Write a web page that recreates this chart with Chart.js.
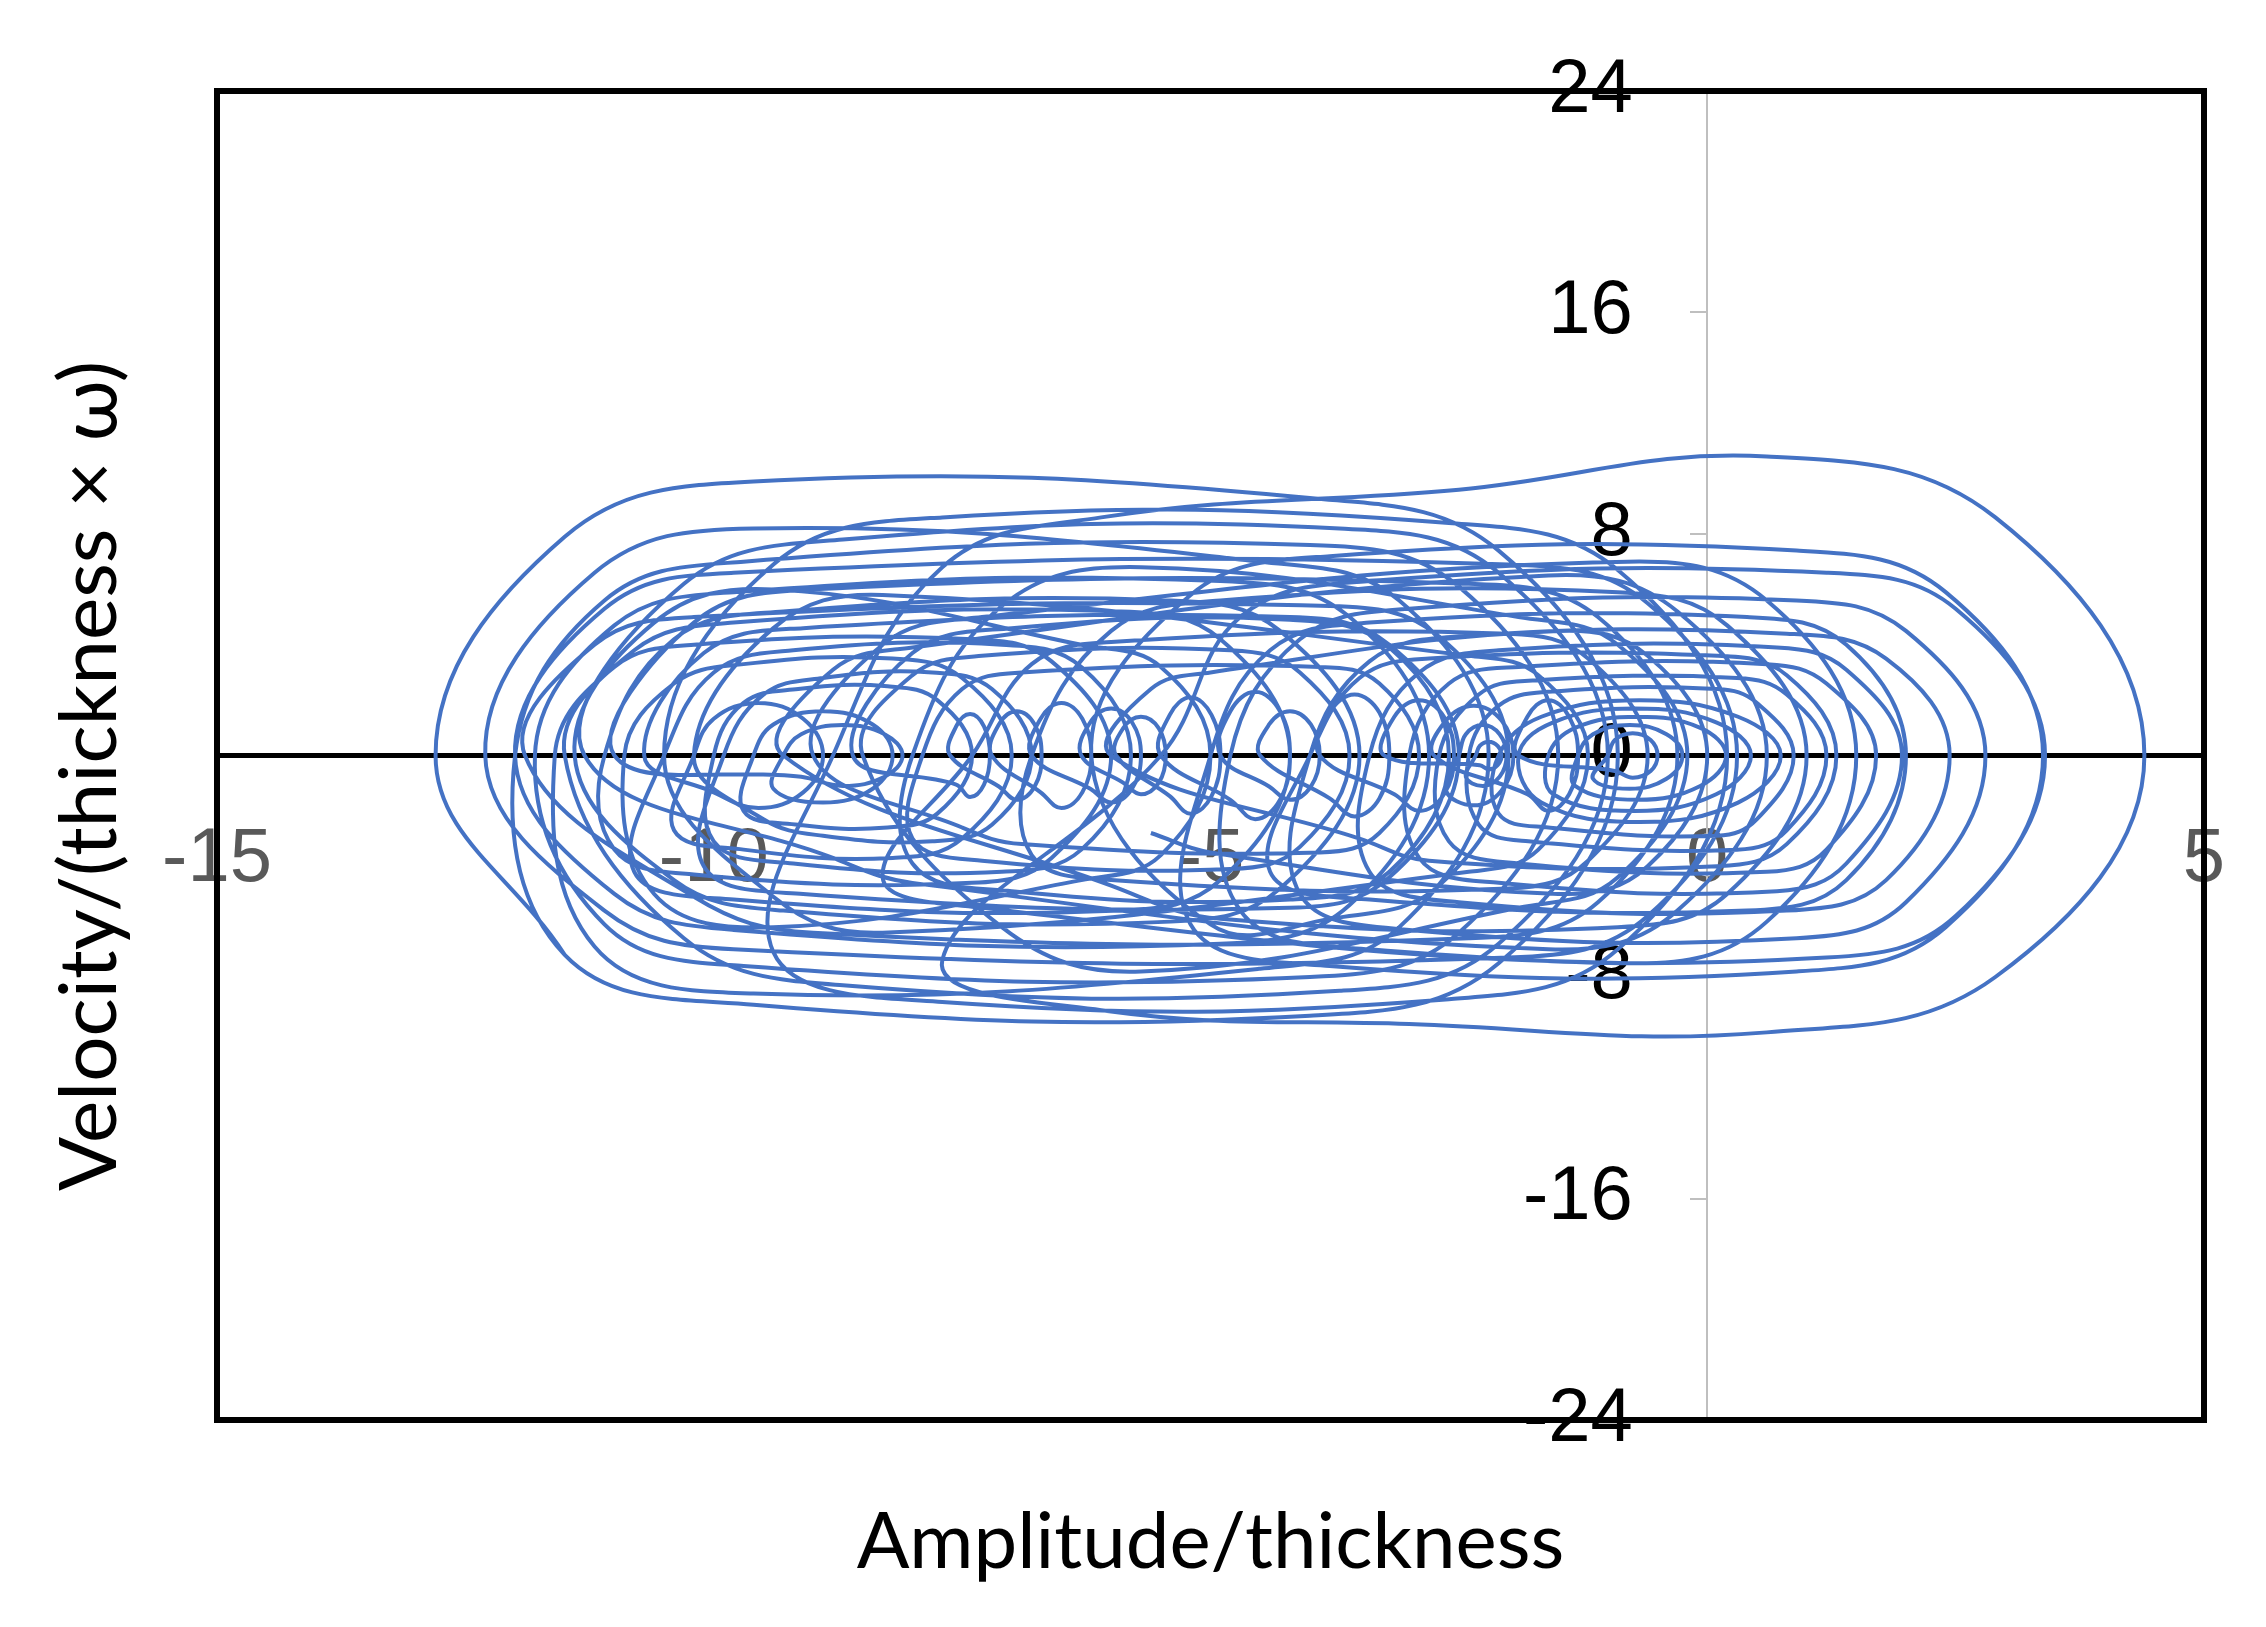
<!DOCTYPE html>
<html>
<head>
<meta charset="utf-8">
<script src="https://cdn.jsdelivr.net/npm/chart.js@4.4.1/dist/chart.umd.min.js"></script>
<style>
  html, body { margin: 0; padding: 0; background: #fff; }
</style>
</head>
<body>
<canvas id="phaseChart" width="2266" height="1627"></canvas>
<script>
// axis titles and ticks
const xTitle = 'Amplitude/thickness';
const yTitle = 'Velocity/(thickness \u00d7 \u03c9)';
const xTicks = [-15, -10, -5, 0, 5];
const yTicks = [-24, -16, -8, 0, 8, 16, 24];

// trajectory, [amplitude, velocity], in the order it is traced
const leftWellA = [
  [-11.5, -7.2],
  [-12.8, 0], [-11.5, 7.9], [-9.6, 9.9], [-4.0, 9.3], [-2.1, 7.4], [-0.9, 0], [-2.1, -7.5], [-4.0, -9.4], [-9.6, -9.0], [-11.5, -7.2],
  [-12.0, 0], [-11.1, 5.6], [-9.7, 7.0], [-4.0, 7.6], [-2.5, 6.1], [-1.5, 0], [-2.5, -6.4], [-4.0, -8.0], [-9.7, -7.6], [-11.1, -6.1],
  [-11.8, 0], [-11.0, 4.7], [-9.8, 5.9], [-4.9, 6.3], [-3.6, 5.0], [-2.8, 0], [-3.6, -5.4], [-4.9, -6.8], [-9.8, -6.3], [-11.0, -5.0],
  [-12.0, 0], [-11.1, 5.3], [-9.8, 6.6], [-2.0, 6.9], [-0.6, 5.5], [0.3, 0], [-0.6, -5.8], [-2.0, -7.3], [-9.8, -7.0], [-11.1, -5.6],
  [-12.3, 0], [-11.2, 6.6], [-9.6, 8.2], [-4.5, 7.0], [-3.1, 5.6], [-2.2, 0], [-3.1, -6.2], [-4.5, -7.7], [-9.6, -8.6], [-11.2, -6.9],
  [-11.6, 0], [-11.0, 3.2], [-10.2, 4.0], [-7.4, 4.2], [-6.6, 3.4], [-6.0, 0], [-6.6, -3.7], [-7.4, -4.6], [-10.2, -4.3], [-11.0, -3.4],
  [-11.1, 0], [-10.4, 4.2], [-9.3, 5.2], [-5.4, 5.6], [-4.3, 4.5], [-3.5, 0], [-4.3, -4.8], [-5.4, -6.0], [-9.3, -5.6], [-10.4, -4.5],
  [-11.4, 0], [-10.6, 4.8], [-9.4, 6.0], [-6.3, 4.0], [-5.5, 3.2], [-5.0, 0], [-5.5, -3.6], [-6.3, -4.5], [-9.4, -6.2], [-10.6, -5.0],
  [-10.9, 0], [-10.4, 2.6], [-9.7, 3.3], [-8.2, 3.5], [-7.5, 2.8], [-7.0, 0], [-7.5, -3.0], [-8.2, -3.7], [-9.7, -3.4], [-10.4, -2.7],
  [-10.2, 0], [-10.0, 1.33], [-9.55, 1.9], [-9.1, 1.33], [-8.9, 0], [-9.1, -1.33], [-9.55, -1.9], [-10.0, -1.33],
  [-10.7, 0], [-10.1, 3.7], [-9.1, 4.6], [-4.2, 5.0], [-3.2, 4.0], [-2.5, 0], [-3.2, -4.4], [-4.2, -5.5], [-9.1, -5.0], [-10.1, -4.0],
  [-9.9, 0], [-9.5, 2.2], [-8.9, 2.8], [-7.8, 3.0], [-7.2, 2.4], [-6.8, 0], [-7.2, -2.5], [-7.8, -3.1], [-8.9, -2.9], [-9.5, -2.3],
  [-10.2, 0], [-9.4, 4.6], [-8.3, 5.8], [-2.4, 3.6], [-1.7, 2.9], [-1.2, 0], [-1.7, -3.4], [-2.4, -4.2], [-8.3, -6.4], [-9.4, -5.1]
];

const crossRight = [
  [-10.5, 0], [-9.4, 6.9], [-7.7, 8.6], [-2.6, 8.4], [-0.9, 6.7], [0.2, 0], [-0.9, -7.0], [-2.6, -8.8], [-7.7, -8.9], [-9.4, -7.1],
  [-8.8, 0], [-7.7, 6.8], [-6.1, 8.6], [-2.5, 9.6], [0.6, 10.8], [2.9, 8.6], [4.4, 0], [2.9, -8.0], [0.6, -10.0], [-3.0, -9.7], [-6.1, -9.2], [-7.7, -7.4]
];

const rightWell = [
  [-5.5, 0], [-4.7, 5.0], [-3.4, 6.3], [1.2, 6.6], [2.5, 5.3], [3.4, 0], [2.5, -5.8], [1.2, -7.3], [-3.4, -7.0], [-4.7, -5.6],
  [-4.8, 0], [-4.1, 4.2], [-3.0, 5.3], [0.9, 5.6], [2.0, 4.5], [2.8, 0], [2.0, -5.3], [0.9, -6.6], [-3.0, -6.3], [-4.1, -5.0],
  [-4.0, 0], [-3.4, 3.4], [-2.5, 4.3], [0.8, 4.4], [1.8, 3.5], [2.44, 0], [1.8, -4.5], [0.8, -5.6], [-2.5, -5.3], [-3.4, -4.2],
  [-3.4, 0], [-2.9, 3.0], [-2.1, 3.8], [0.7, 3.9], [1.4, 3.1], [1.96, 0], [1.4, -3.9], [0.7, -4.9], [-2.1, -4.6], [-2.9, -3.7],
  [-3.0, 0], [-2.6, 2.6], [-1.9, 3.2], [0.6, 3.3], [1.2, 2.6], [1.7, 0], [1.2, -3.4], [0.6, -4.2], [-1.9, -3.9], [-2.6, -3.1],
  [-2.7, 0], [-2.3, 2.2], [-1.8, 2.7], [0.3, 2.8], [0.8, 2.2], [1.2, 0], [0.8, -2.7], [0.3, -3.4], [-1.8, -3.1], [-2.3, -2.5],
  [-2.4, 0], [-2.1, 1.8], [-1.6, 2.3], [0.1, 2.4], [0.5, 1.9], [0.87, 0], [0.5, -2.3], [0.1, -2.9], [-1.6, -2.6], [-2.1, -2.1],
  [-2.1, 0], [-1.67, 1.4], [-0.68, 2.0], [0.31, 1.4], [0.74, 0], [0.31, -1.7], [-0.68, -2.4], [-1.67, -1.7],
  [-1.9, 0], [-1.55, 1.2], [-0.73, 1.7], [0.09, 1.2], [0.44, 0], [0.09, -1.4], [-0.73, -2.0], [-1.55, -1.4],
  [-1.6, 0], [-1.33, 1.0], [-0.7, 1.4], [-0.07, 1.0], [0.19, 0], [-0.07, -1.1], [-0.7, -1.6], [-1.33, -1.1],
  [-1.3, 0], [-1.15, 0.77], [-0.78, 1.1], [-0.41, 0.77], [-0.25, 0], [-0.41, -0.84], [-0.78, -1.2], [-1.15, -0.84],
  [-1.0, 0], [-0.93, 0.56], [-0.75, 0.8], [-0.57, 0.56], [-0.5, 0], [-0.57, -0.56], [-0.75, -0.8], [-0.93, -0.56]
];

const midChain = [
  [-1.9, 0], [-1.81, 1.4], [-1.6, 2.0], [-1.39, 1.4], [-1.3, 0], [-1.39, -1.4], [-1.6, -2.0], [-1.81, -1.4],
  [-2.75, 0], [-2.63, 1.26], [-2.35, 1.8], [-2.07, 1.26], [-1.95, 0], [-2.07, -1.26], [-2.35, -1.8], [-2.63, -1.26],
  [-2.5, 0], [-2.43, 0.77], [-2.26, 1.1], [-2.09, 0.77], [-2.02, 0], [-2.09, -0.77], [-2.26, -1.1], [-2.43, -0.77],
  [-2.33, 0], [-2.29, 0.35], [-2.2, 0.5], [-2.11, 0.35], [-2.07, 0], [-2.11, -0.35], [-2.2, -0.5], [-2.29, -0.35],
  [-3.25, 0], [-3.15, 1.4], [-2.9, 2.0], [-2.65, 1.4], [-2.55, 0], [-2.65, -1.4], [-2.9, -2.0], [-3.15, -1.4],
  [-3.9, 0], [-3.8, 1.55], [-3.55, 2.2], [-3.3, 1.55], [-3.2, 0], [-3.3, -1.55], [-3.55, -2.2], [-3.8, -1.55],
  [-4.5, 0], [-4.41, 1.12], [-4.2, 1.6], [-3.99, 1.12], [-3.9, 0], [-3.99, -1.12], [-4.2, -1.6], [-4.41, -1.12],
  [-4.9, 0], [-4.8, 1.6], [-4.55, 2.3], [-4.3, 1.6], [-4.2, 0], [-4.3, -1.6], [-4.55, -2.3], [-4.8, -1.6],
  [-5.5, 0], [-5.41, 1.47], [-5.2, 2.1], [-4.99, 1.47], [-4.9, 0], [-4.99, -1.47], [-5.2, -2.1], [-5.41, -1.47],
  [-5.95, 0], [-5.88, 0.98], [-5.7, 1.4], [-5.52, 0.98], [-5.45, 0], [-5.52, -0.98], [-5.7, -1.4], [-5.88, -0.98],
  [-6.3, 0], [-6.21, 1.2], [-6.0, 1.7], [-5.79, 1.2], [-5.7, 0], [-5.79, -1.2], [-6.0, -1.7], [-6.21, -1.2],
  [-6.8, 0], [-6.71, 1.33], [-6.5, 1.9], [-6.29, 1.33], [-6.2, 0], [-6.29, -1.33], [-6.5, -1.9], [-6.71, -1.33],
  [-7.2, 0], [-7.13, 1.12], [-6.95, 1.6], [-6.77, 1.12], [-6.7, 0], [-6.77, -1.12], [-6.95, -1.6], [-7.13, -1.12],
  [-7.62, 0], [-7.56, 1.05], [-7.42, 1.5], [-7.28, 1.05], [-7.22, 0], [-7.28, -1.05], [-7.42, -1.5], [-7.56, -1.05]
];

const midLoops = [
  [-8.6, 0], [-8.0, 3.7], [-7.0, 4.6], [-4.2, 4.9], [-3.2, 3.9], [-2.6, 0], [-3.2, -4.2], [-4.2, -5.2], [-7.0, -4.9], [-8.0, -3.9],
  [-8.0, 0], [-7.1, 5.4], [-5.7, 6.8], [-1.9, 5.0], [-0.9, 4.0], [-0.2, 0], [-0.9, -4.4], [-1.9, -5.5], [-5.7, -7.8], [-7.1, -6.2],
  [-8.5, 0], [-8.0, 2.9], [-7.3, 3.6], [-4.8, 3.8], [-4.1, 3.0], [-3.6, 0], [-4.1, -3.3], [-4.8, -4.1], [-7.3, -3.8], [-8.0, -3.0],
  [-7.9, 0], [-7.5, 2.4], [-6.9, 3.0], [-3.9, 3.2], [-3.3, 2.6], [-2.9, 0], [-3.3, -2.8], [-3.9, -3.5], [-6.9, -3.2], [-7.5, -2.6],
  [-9.0, 0], [-8.3, 4.0], [-7.3, 5.0], [-0.8, 7.0], [0.6, 5.6], [1.5, 0], [0.6, -6.0], [-0.8, -7.5], [-7.3, -5.5], [-8.3, -4.4],
  [-7.4, 0], [-6.8, 3.3], [-6.0, 4.1], [-2.0, 4.4], [-1.2, 3.5], [-0.6, 0], [-1.2, -3.8], [-2.0, -4.8], [-6.0, -4.5], [-6.8, -3.6],
  [-6.8, 0], [-6.0, 4.5], [-4.9, 5.6], [-0.9, 5.9], [0.2, 4.7], [1.0, 0], [0.2, -5.0], [-0.9, -6.2], [-4.9, -5.9], [-6.0, -4.7],
  [-9.3, 0], [-8.8, 3.1], [-8.0, 3.9], [-1.6, 6.5], [-0.3, 5.2], [0.6, 0], [-0.3, -5.6], [-1.6, -7.0], [-8.0, -4.6], [-8.8, -3.7]
];

const leftWellB = [
  [-11.3, 0], [-10.3, 6.2], [-8.7, 7.8], [-3.7, 8.2], [-2.1, 6.6], [-1.0, 0], [-2.1, -6.8], [-3.7, -8.5], [-8.7, -8.3], [-10.3, -6.6],
  [-11.5, 0], [-10.8, 3.8], [-9.8, 4.8], [-5.9, 5.2], [-4.9, 4.2], [-4.2, 0], [-4.9, -4.5], [-5.9, -5.6], [-9.8, -5.2], [-10.8, -4.2],
  [-10.5, 0], [-10.0, 3.0], [-9.2, 3.8], [-7.1, 4.0], [-6.3, 3.2], [-5.8, 0], [-6.3, -3.4], [-7.1, -4.2], [-9.2, -3.9], [-10.0, -3.1],
  [-10.0, 0], [-9.7, 1.9], [-9.15, 2.4], [-8.25, 2.5], [-7.75, 2.0], [-7.4, 0], [-7.75, -2.1], [-8.25, -2.6], [-9.15, -2.5], [-9.7, -2.0],
  [-9.6, 0], [-9.4, 1.12], [-8.9, 1.6], [-8.4, 1.12], [-8.2, 0], [-8.4, -1.2], [-8.9, -1.7], [-9.4, -1.2],
  [-9.3, 0], [-9.12, 0.77], [-8.7, 1.1], [-8.28, 0.77], [-8.1, 0], [-8.28, -0.77], [-8.7, -1.1], [-9.12, -0.77],
  [-11.0, 0], [-10.2, 4.8], [-9.0, 6.0], [-2.4, 6.2], [-1.1, 5.0], [-0.3, 0], [-1.1, -5.3], [-2.4, -6.6], [-9.0, -6.4], [-10.2, -5.1],
  [-11.9, 0], [-11.2, 4.0], [-10.2, 5.0], [-3.8, 5.4], [-2.7, 4.3], [-2.0, 0], [-2.7, -4.7], [-3.8, -5.9], [-5.0, -6.1]
];

const lastLoops = [
  [-6.2, 0], [-5.2, 5.8], [-3.8, 7.2], [0.9, 7.4], [2.4, 5.9], [3.38, 0], [2.4, -6.2], [0.9, -7.8], [-3.8, -7.6], [-5.2, -6.1],
  [-5.0, 0], [-4.4, 3.8], [-3.4, 4.8], [0.4, 5.0], [1.4, 4.0], [2.0, 0], [1.4, -4.5], [0.4, -5.6], [-3.4, -5.2], [-4.4, -4.2],
  [-4.0, 0], [-3.5, 2.8], [-2.8, 3.5], [0.1, 3.6], [0.8, 2.9], [1.3, 0], [0.8, -3.2], [0.1, -4.0], [-2.8, -3.8], [-3.5, -3.0],
  [-6.0, 0], [-5.6, 2.4], [-5.0, 3.0], [-1.5, 4.5], [-0.6, 3.6], [0.0, 0], [-0.6, -4.0], [-1.5, -5.0], [-5.0, -3.5], [-5.6, -2.8]
];

const segments = [leftWellA, crossRight, rightWell, midChain, midLoops, leftWellB, lastLoops];
const trajectory = [];
segments.forEach(seg => seg.forEach(([x, y]) => trajectory.push({ x: x, y: y })));

const tickFont = { family: '"Liberation Sans", Arial, sans-serif', size: 76 };

// frame round the plot area plus the two axis titles
const frameAndTitles = {
  id: 'frameAndTitles',
  afterDraw(chart) {
    const { ctx, chartArea: a } = chart;
    ctx.save();
    ctx.strokeStyle = '#000';
    ctx.lineWidth = 6;
    ctx.strokeRect(a.left, a.top, a.right - a.left, a.bottom - a.top);
    ctx.fillStyle = '#000';
    ctx.textAlign = 'center';
    ctx.textBaseline = 'alphabetic';
    ctx.font = '78px Lato, "Open Sans", sans-serif';
    ctx.fillText(xTitle, (a.left + a.right) / 2, 1568);
    ctx.font = '80px Lato, "Open Sans", sans-serif';
    ctx.translate(116, 776);
    ctx.rotate(-Math.PI / 2);
    ctx.fillText(yTitle, 0, 0);
    ctx.restore();
  }
};

new Chart(document.getElementById('phaseChart').getContext('2d'), {
  type: 'scatter',
  data: {
    datasets: [{
      data: trajectory,
      showLine: true,
      borderColor: '#4472C4',
      borderWidth: 4,
      pointRadius: 0,
      tension: 0.4,
      fill: false
    }]
  },
  options: {
    responsive: false,
    animation: false,
    layout: { padding: { left: 217, top: 91, right: 62, bottom: 207 } },
    plugins: { legend: { display: false }, tooltip: { enabled: false } },
    scales: {
      x: {
        type: 'linear',
        min: xTicks[0],
        max: xTicks[xTicks.length - 1],
        position: { y: 0 },
        afterBuildTicks: s => { s.ticks = xTicks.map(v => ({ value: v })); },
        ticks: { color: '#595959', font: tickFont, padding: 0, maxRotation: 0, autoSkip: false },
        grid: { display: false, drawTicks: true, tickLength: 59 },
        border: { display: true, color: '#000', width: 5 }
      },
      y: {
        type: 'linear',
        min: yTicks[0],
        max: yTicks[yTicks.length - 1],
        position: { x: 0 },
        afterBuildTicks: s => { s.ticks = yTicks.map(v => ({ value: v })); },
        ticks: { display: false },
        grid: { drawOnChartArea: false, drawTicks: true, tickLength: 16, color: '#bfbfbf', lineWidth: 2 },
        border: { display: true, color: '#bfbfbf', width: 2 }
      },
      yLabels: {
        type: 'linear',
        axis: 'y',
        min: yTicks[0],
        max: yTicks[yTicks.length - 1],
        position: { x: -0.75 },
        afterBuildTicks: s => { s.ticks = yTicks.map(v => ({ value: v })); },
        ticks: { color: '#000', font: tickFont, autoSkip: false },
        grid: { display: false },
        border: { display: false },
        z: 1
      }
    }
  },
  plugins: [frameAndTitles]
});
</script>
</body>
</html>
